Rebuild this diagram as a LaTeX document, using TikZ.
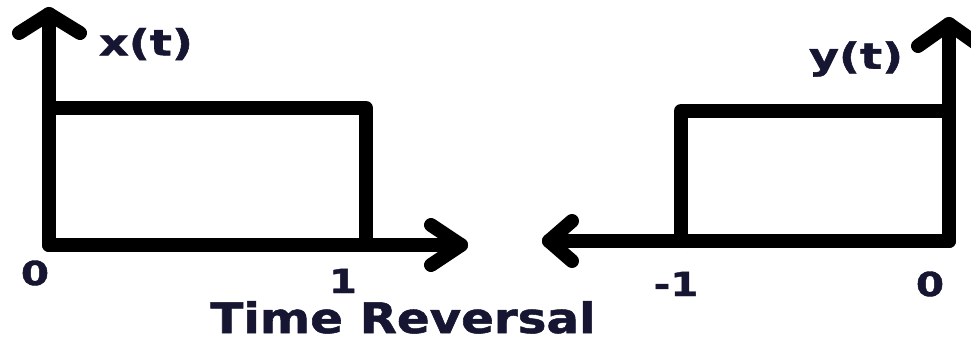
\documentclass[tikz,border=0pt]{standalone}
\usepackage{fontspec}
\setmainfont{DejaVu Sans}
\newfontfamily\heavy[UprightFont={* Bold},FakeBold=1.2]{DejaVu Sans}
\definecolor{txt}{RGB}{22,22,50}
\begin{document}
\begin{tikzpicture}[x=1pt,y=-1pt,
  ax/.style={line width=14pt,line cap=round,line join=round,black},
  lbl/.style={inner sep=0pt,text=txt,anchor=base,font=\heavy\fontsize{33}{33}\selectfont,xscale=1.22},
  big/.style={inner sep=0pt,text=txt,anchor=base,font=\heavy\fontsize{42}{42}\selectfont,xscale=1.15}]
\useasboundingbox (0,0) rectangle (971,342);
% left plot
\coordinate (o1) at (49,245);
\coordinate (y1) at (49,14);
\coordinate (x1) at (461,245);
\coordinate (r1a) at (49,108);
\coordinate (r1b) at (366,108);
\coordinate (r1c) at (366,245);
\draw[ax] (o1) -- (y1);
\draw[ax] (19,33) -- (y1) -- (80,33);
\draw[ax] (o1) -- (x1);
\draw[ax] (431,225) -- (x1) -- (431,265);
\draw[ax] (r1a) -- (r1b) -- (r1c);
% right plot
\coordinate (o2) at (949,241);
\coordinate (y2) at (949,24);
\coordinate (x2) at (549,241);
\coordinate (r2a) at (681,241);
\coordinate (r2b) at (681,111);
\coordinate (r2c) at (949,111);
\draw[ax] (o2) -- (y2);
\draw[ax] (918,46) -- (y2) -- (980,46);
\draw[ax] (o2) -- (x2);
\draw[ax] (572,221) -- (x2) -- (572,261);
\draw[ax] (r2a) -- (r2b) -- (r2c);
% labels
\node[lbl,anchor=center,xscale=1.05,font=\heavy\fontsize{36}{36}\selectfont] (xt) at (146,44) {x(t)};
\node[lbl,anchor=center,xscale=1.05,font=\heavy\fontsize{36}{36}\selectfont] (yt) at (856,59) {y(t)};
\node[lbl] (l0) at (35,285) {0};
\node[lbl] (l1) at (343,293) {1};
\node[lbl] (lm1) at (676,296) {-1};
\node[lbl] (r0) at (930,296) {0};
\node[big] (title) at (403,333) {Time Reversal};
\end{tikzpicture}
\end{document}
